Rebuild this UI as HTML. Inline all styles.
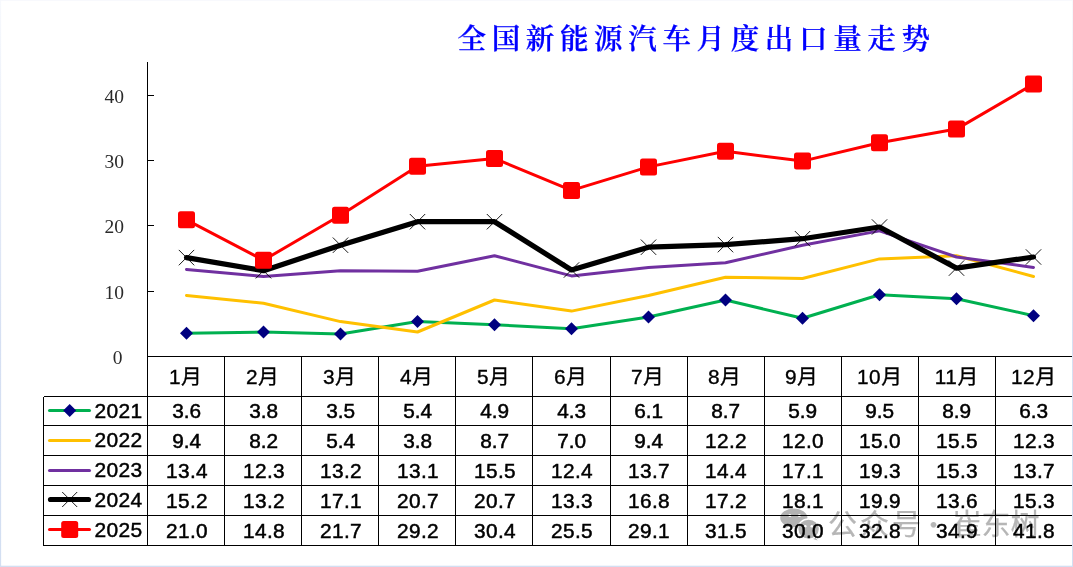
<!DOCTYPE html>
<html lang="zh-CN">
<head>
<meta charset="utf-8">
<title>全国新能源汽车月度出口量走势</title>
<style>
html,body{margin:0;padding:0;background:#fff;}
body{width:1073px;height:567px;overflow:hidden;position:relative;}
svg{display:block;position:absolute;left:0;top:0;}
.t{font-family:"Liberation Sans","Noto Sans CJK SC",sans-serif;font-size:20.8px;fill:#000;stroke:#000;stroke-width:0.5px;letter-spacing:0.4px;text-anchor:middle;}
.s{letter-spacing:0;}
.yr{font-family:"Liberation Sans","Noto Sans CJK SC",sans-serif;font-size:21px;fill:#000;stroke:#000;stroke-width:0.45px;text-anchor:end;letter-spacing:0.3px;}
.m{font-family:"Liberation Sans","Noto Sans CJK SC",sans-serif;font-size:20.8px;fill:#000;stroke:#000;stroke-width:0.35px;letter-spacing:0.6px;text-anchor:middle;}
.y{font-family:"Liberation Serif","Noto Serif CJK SC",serif;font-size:19.5px;fill:#2a2a2a;text-anchor:end;}
.ttl{font-family:"Liberation Serif","Noto Serif CJK SC",serif;font-weight:600;font-size:28.5px;fill:#0000ff;stroke:#0000ff;stroke-width:0.25px;letter-spacing:5.65px;}
.wm{font-family:"Liberation Sans","Noto Sans CJK SC",sans-serif;font-size:29px;fill:#b6b6b6;stroke:#b6b6b6;stroke-width:0.25px;}
.dot{font-family:"Noto Sans CJK SC",sans-serif;font-weight:300;stroke-width:0.2px;}
</style>
</head>
<body>
<svg width="1073" height="567" viewBox="0 0 1073 567">
<rect x="0" y="0" width="1073" height="567" fill="#ffffff"/>
<defs><linearGradient id="vg" x1="0" y1="0" x2="0" y2="1"><stop offset="0" stop-color="#f7f9fd"/><stop offset="0.6" stop-color="#d6e0f3"/><stop offset="1" stop-color="#d3dff2"/></linearGradient></defs>
<rect x="0" y="0" width="1073" height="1" fill="#f8f9fd"/>
<rect x="0" y="0" width="1" height="567" fill="url(#vg)"/>
<rect x="1" y="0" width="1" height="567" fill="url(#vg)" fill-opacity="0.12"/>
<rect x="1072" y="0" width="1" height="567" fill="url(#vg)"/>
<rect x="0" y="566" width="1073" height="1" fill="#d3dff2"/>
<rect x="0" y="565" width="1073" height="1" fill="#d3dff2" fill-opacity="0.3"/>
<g fill="#b3b3b3">
<path d="M785.5 524.6 L783.6 528.6 L789.2 526.4 Z"/>
<ellipse cx="793.8" cy="517.8" rx="13.6" ry="9.4"/>
<path d="M814.6 536.5 L817.6 540.4 L811.6 538.6 Z"/>
<ellipse cx="808.6" cy="529.1" rx="10.9" ry="10.1" stroke="#fff" stroke-width="1.4"/>
</g>
<g fill="#fff"><circle cx="789.9" cy="515.6" r="1.5"/><circle cx="799.4" cy="515.6" r="1.5"/><circle cx="805.2" cy="526.2" r="1.3"/><circle cx="811.8" cy="526.2" r="1.3"/></g>
<text class="wm" y="534.8"><tspan x="828" y="535.3" style="letter-spacing:3px">公众号</tspan><tspan class="dot" x="919" y="535.6">·</tspan><tspan x="952.5" y="534.8">崔东树</tspan></text>
<text class="ttl" x="457.5" y="48.5" transform="translate(0,0)">全国新能源汽车月度出口量走势</text>
<g stroke="#000" stroke-width="1.3" fill="none" shape-rendering="crispEdges">
<line x1="147.5" y1="62" x2="147.5" y2="545.5"/>
<line x1="147.5" y1="291.5" x2="153.5" y2="291.5"/>
<line x1="147.5" y1="225.5" x2="153.5" y2="225.5"/>
<line x1="147.5" y1="160.5" x2="153.5" y2="160.5"/>
<line x1="147.5" y1="95.5" x2="153.5" y2="95.5"/>
<line x1="147.5" y1="356.5" x2="1072" y2="356.5"/>
<line x1="43.5" y1="396.5" x2="1072" y2="396.5"/>
<line x1="43.5" y1="425.5" x2="1072" y2="425.5"/>
<line x1="43.5" y1="455.5" x2="1072" y2="455.5"/>
<line x1="43.5" y1="485.5" x2="1072" y2="485.5"/>
<line x1="43.5" y1="515.5" x2="1072" y2="515.5"/>
<line x1="43.5" y1="545.5" x2="1072" y2="545.5"/>
<line x1="43.5" y1="396.5" x2="43.5" y2="545.5"/>
<line x1="224.5" y1="356.5" x2="224.5" y2="545.5"/>
<line x1="301.5" y1="356.5" x2="301.5" y2="545.5"/>
<line x1="378.5" y1="356.5" x2="378.5" y2="545.5"/>
<line x1="455.5" y1="356.5" x2="455.5" y2="545.5"/>
<line x1="532.5" y1="356.5" x2="532.5" y2="545.5"/>
<line x1="610.5" y1="356.5" x2="610.5" y2="545.5"/>
<line x1="687.5" y1="356.5" x2="687.5" y2="545.5"/>
<line x1="764.5" y1="356.5" x2="764.5" y2="545.5"/>
<line x1="841.5" y1="356.5" x2="841.5" y2="545.5"/>
<line x1="918.5" y1="356.5" x2="918.5" y2="545.5"/>
<line x1="995.5" y1="356.5" x2="995.5" y2="545.5"/>
</g>
<text class="y" x="122.6" y="363.8">0</text>
<text class="y" x="124" y="298.6">10</text>
<text class="y" x="124" y="233.3">20</text>
<text class="y" x="124" y="168.1">30</text>
<text class="y" x="124" y="102.8">40</text>
<polyline points="186.5,333.3 263.5,332.0 340.5,334.0 417.5,321.6 494.5,324.8 571.5,328.7 648.5,317.0 725.5,300.0 802.5,318.3 879.5,294.8 956.5,298.7 1033.5,315.7" fill="none" stroke="#00b050" stroke-width="3" stroke-linejoin="round" stroke-linecap="round"/>
<polyline points="186.5,295.5 263.5,303.3 340.5,321.6 417.5,332.0 494.5,300.0 571.5,311.1 648.5,295.5 725.5,277.2 802.5,278.5 879.5,258.9 956.5,255.7 1033.5,276.5" fill="none" stroke="#ffc000" stroke-width="3" stroke-linejoin="round" stroke-linecap="round"/>
<polyline points="186.5,269.4 263.5,276.5 340.5,270.7 417.5,271.3 494.5,255.7 571.5,275.9 648.5,267.4 725.5,262.8 802.5,245.2 879.5,230.9 956.5,257.0 1033.5,267.4" fill="none" stroke="#7030a0" stroke-width="3" stroke-linejoin="round" stroke-linecap="round"/>
<polyline points="186.5,257.6 263.5,270.7 340.5,245.2 417.5,221.7 494.5,221.7 571.5,270.0 648.5,247.2 725.5,244.6 802.5,238.7 879.5,227.0 956.5,268.1 1033.5,257.0" fill="none" stroke="#000" stroke-width="5.2" stroke-linejoin="round" stroke-linecap="round"/>
<polyline points="186.5,219.8 263.5,260.2 340.5,215.2 417.5,166.3 494.5,158.4 571.5,190.4 648.5,166.9 725.5,151.3 802.5,161.1 879.5,142.8 956.5,129.1 1033.5,84.1" fill="none" stroke="#ff0000" stroke-width="3" stroke-linejoin="round" stroke-linecap="round"/>
<path d="M186.5 326.8L193.0 333.3L186.5 339.8L180.0 333.3Z" fill="#000080"/>
<path d="M263.5 325.5L270.0 332.0L263.5 338.5L257.0 332.0Z" fill="#000080"/>
<path d="M340.5 327.5L347.0 334.0L340.5 340.5L334.0 334.0Z" fill="#000080"/>
<path d="M417.5 315.1L424.0 321.6L417.5 328.1L411.0 321.6Z" fill="#000080"/>
<path d="M494.5 318.3L501.0 324.8L494.5 331.3L488.0 324.8Z" fill="#000080"/>
<path d="M571.5 322.2L578.0 328.7L571.5 335.2L565.0 328.7Z" fill="#000080"/>
<path d="M648.5 310.5L655.0 317.0L648.5 323.5L642.0 317.0Z" fill="#000080"/>
<path d="M725.5 293.5L732.0 300.0L725.5 306.5L719.0 300.0Z" fill="#000080"/>
<path d="M802.5 311.8L809.0 318.3L802.5 324.8L796.0 318.3Z" fill="#000080"/>
<path d="M879.5 288.3L886.0 294.8L879.5 301.3L873.0 294.8Z" fill="#000080"/>
<path d="M956.5 292.2L963.0 298.7L956.5 305.2L950.0 298.7Z" fill="#000080"/>
<path d="M1033.5 309.2L1040.0 315.7L1033.5 322.2L1027.0 315.7Z" fill="#000080"/>
<path d="M178.8 249.9L194.2 265.3M178.8 265.3L194.2 249.9" stroke="#000" stroke-width="0.9" fill="none"/>
<path d="M255.8 263.0L271.2 278.4M255.8 278.4L271.2 263.0" stroke="#000" stroke-width="0.9" fill="none"/>
<path d="M332.8 237.5L348.2 252.9M332.8 252.9L348.2 237.5" stroke="#000" stroke-width="0.9" fill="none"/>
<path d="M409.8 214.0L425.2 229.4M409.8 229.4L425.2 214.0" stroke="#000" stroke-width="0.9" fill="none"/>
<path d="M486.8 214.0L502.2 229.4M486.8 229.4L502.2 214.0" stroke="#000" stroke-width="0.9" fill="none"/>
<path d="M563.8 262.3L579.2 277.7M563.8 277.7L579.2 262.3" stroke="#000" stroke-width="0.9" fill="none"/>
<path d="M640.8 239.5L656.2 254.9M640.8 254.9L656.2 239.5" stroke="#000" stroke-width="0.9" fill="none"/>
<path d="M717.8 236.9L733.2 252.3M717.8 252.3L733.2 236.9" stroke="#000" stroke-width="0.9" fill="none"/>
<path d="M794.8 231.0L810.2 246.4M794.8 246.4L810.2 231.0" stroke="#000" stroke-width="0.9" fill="none"/>
<path d="M871.8 219.3L887.2 234.7M871.8 234.7L887.2 219.3" stroke="#000" stroke-width="0.9" fill="none"/>
<path d="M948.8 260.4L964.2 275.8M948.8 275.8L964.2 260.4" stroke="#000" stroke-width="0.9" fill="none"/>
<path d="M1025.8 249.3L1041.2 264.7M1025.8 264.7L1041.2 249.3" stroke="#000" stroke-width="0.9" fill="none"/>
<rect x="178.0" y="211.3" width="17.0" height="17.0" rx="2.5" fill="#ff0000"/>
<rect x="255.0" y="251.7" width="17.0" height="17.0" rx="2.5" fill="#ff0000"/>
<rect x="332.0" y="206.7" width="17.0" height="17.0" rx="2.5" fill="#ff0000"/>
<rect x="409.0" y="157.8" width="17.0" height="17.0" rx="2.5" fill="#ff0000"/>
<rect x="486.0" y="149.9" width="17.0" height="17.0" rx="2.5" fill="#ff0000"/>
<rect x="563.0" y="181.9" width="17.0" height="17.0" rx="2.5" fill="#ff0000"/>
<rect x="640.0" y="158.4" width="17.0" height="17.0" rx="2.5" fill="#ff0000"/>
<rect x="717.0" y="142.8" width="17.0" height="17.0" rx="2.5" fill="#ff0000"/>
<rect x="794.0" y="152.6" width="17.0" height="17.0" rx="2.5" fill="#ff0000"/>
<rect x="871.0" y="134.3" width="17.0" height="17.0" rx="2.5" fill="#ff0000"/>
<rect x="948.0" y="120.6" width="17.0" height="17.0" rx="2.5" fill="#ff0000"/>
<rect x="1025.0" y="75.6" width="17.0" height="17.0" rx="2.5" fill="#ff0000"/>
<text class="m" x="185.7" y="383.5">1月</text>
<text class="m" x="262.7" y="383.5">2月</text>
<text class="m" x="339.7" y="383.5">3月</text>
<text class="m" x="416.7" y="383.5">4月</text>
<text class="m" x="493.7" y="383.5">5月</text>
<text class="m" x="570.7" y="383.5">6月</text>
<text class="m" x="647.7" y="383.5">7月</text>
<text class="m" x="724.7" y="383.5">8月</text>
<text class="m" x="801.7" y="383.5">9月</text>
<text class="m" x="879.8" y="383.5">10月</text>
<text class="m" x="956.8" y="383.5">11月</text>
<text class="m" x="1033.8" y="383.5">12月</text>
<text class="t s" x="186.7" y="418.3">3.6</text>
<text class="t s" x="263.7" y="418.3">3.8</text>
<text class="t s" x="340.7" y="418.3">3.5</text>
<text class="t s" x="417.7" y="418.3">5.4</text>
<text class="t s" x="494.7" y="418.3">4.9</text>
<text class="t s" x="571.7" y="418.3">4.3</text>
<text class="t s" x="648.7" y="418.3">6.1</text>
<text class="t s" x="725.7" y="418.3">8.7</text>
<text class="t s" x="802.7" y="418.3">5.9</text>
<text class="t s" x="879.7" y="418.3">9.5</text>
<text class="t s" x="956.7" y="418.3">8.9</text>
<text class="t s" x="1033.7" y="418.3">6.3</text>
<text class="yr" x="142.4" y="417.6">2021</text>
<line x1="49.5" y1="410.5" x2="89.5" y2="410.5" stroke="#00b050" stroke-width="3" stroke-linecap="round"/>
<path d="M69.7 404.0L76.2 410.5L69.7 417.0L63.2 410.5Z" fill="#000080"/>
<text class="t s" x="186.7" y="447.8">9.4</text>
<text class="t s" x="263.7" y="447.8">8.2</text>
<text class="t s" x="340.7" y="447.8">5.4</text>
<text class="t s" x="417.7" y="447.8">3.8</text>
<text class="t s" x="494.7" y="447.8">8.7</text>
<text class="t s" x="571.7" y="447.8">7.0</text>
<text class="t s" x="648.7" y="447.8">9.4</text>
<text class="t" x="726.0" y="447.8">12.2</text>
<text class="t" x="803.0" y="447.8">12.0</text>
<text class="t" x="880.0" y="447.8">15.0</text>
<text class="t" x="957.0" y="447.8">15.5</text>
<text class="t" x="1034.0" y="447.8">12.3</text>
<text class="yr" x="142.4" y="447.1">2022</text>
<line x1="49.5" y1="440.5" x2="89.5" y2="440.5" stroke="#ffc000" stroke-width="3" stroke-linecap="round"/>
<text class="t" x="187.0" y="477.8">13.4</text>
<text class="t" x="264.0" y="477.8">12.3</text>
<text class="t" x="341.0" y="477.8">13.2</text>
<text class="t" x="418.0" y="477.8">13.1</text>
<text class="t" x="495.0" y="477.8">15.5</text>
<text class="t" x="572.0" y="477.8">12.4</text>
<text class="t" x="649.0" y="477.8">13.7</text>
<text class="t" x="726.0" y="477.8">14.4</text>
<text class="t" x="803.0" y="477.8">17.1</text>
<text class="t" x="880.0" y="477.8">19.3</text>
<text class="t" x="957.0" y="477.8">15.3</text>
<text class="t" x="1034.0" y="477.8">13.7</text>
<text class="yr" x="142.4" y="477.1">2023</text>
<line x1="49.5" y1="470.5" x2="89.5" y2="470.5" stroke="#7030a0" stroke-width="3" stroke-linecap="round"/>
<text class="t" x="187.0" y="507.8">15.2</text>
<text class="t" x="264.0" y="507.8">13.2</text>
<text class="t" x="341.0" y="507.8">17.1</text>
<text class="t" x="418.0" y="507.8">20.7</text>
<text class="t" x="495.0" y="507.8">20.7</text>
<text class="t" x="572.0" y="507.8">13.3</text>
<text class="t" x="649.0" y="507.8">16.8</text>
<text class="t" x="726.0" y="507.8">17.2</text>
<text class="t" x="803.0" y="507.8">18.1</text>
<text class="t" x="880.0" y="507.8">19.9</text>
<text class="t" x="957.0" y="507.8">13.6</text>
<text class="t" x="1034.0" y="507.8">15.3</text>
<text class="yr" x="142.4" y="507.1">2024</text>
<line x1="50.5" y1="499.5" x2="88.5" y2="499.5" stroke="#000" stroke-width="5.2" stroke-linecap="round"/>
<path d="M62.2 492.0L77.2 507.0M62.2 507.0L77.2 492.0" stroke="#000" stroke-width="0.9" fill="none"/>
<text class="t" x="187.0" y="537.8">21.0</text>
<text class="t" x="264.0" y="537.8">14.8</text>
<text class="t" x="341.0" y="537.8">21.7</text>
<text class="t" x="418.0" y="537.8">29.2</text>
<text class="t" x="495.0" y="537.8">30.4</text>
<text class="t" x="572.0" y="537.8">25.5</text>
<text class="t" x="649.0" y="537.8">29.1</text>
<text class="t" x="726.0" y="537.8">31.5</text>
<text class="t" x="803.0" y="537.8">30.0</text>
<text class="t" x="880.0" y="537.8">32.8</text>
<text class="t" x="957.0" y="537.8">34.9</text>
<text class="t" x="1034.0" y="537.8">41.8</text>
<text class="yr" x="142.4" y="537.1">2025</text>
<line x1="49.5" y1="529.5" x2="89.5" y2="529.5" stroke="#ff0000" stroke-width="3" stroke-linecap="round"/>
<rect x="61.2" y="521.0" width="17.0" height="17.0" rx="2.5" fill="#ff0000"/>
</svg>
</body>
</html>
